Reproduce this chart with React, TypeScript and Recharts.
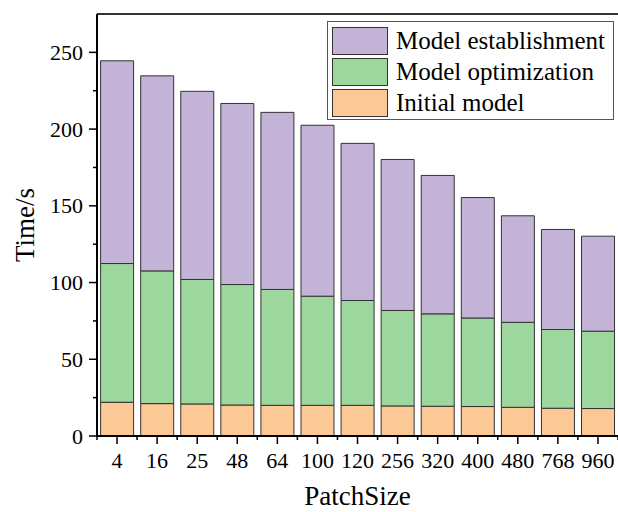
import React from 'react';
import { BarChart, Bar, XAxis, YAxis, ReferenceLine } from 'recharts';

const categories = ['4', '16', '25', '48', '64', '100', '120', '256', '320', '400', '480', '768', '960'];
const initialModel = [22.0, 21.1, 20.9, 20.2, 20.0, 20.0, 20.0, 19.6, 19.4, 19.2, 18.7, 18.1, 17.9];
const modelOptimization = [90.4, 86.5, 81.1, 78.5, 75.5, 71.1, 68.3, 62.2, 60.2, 57.7, 55.4, 51.3, 50.4];
const modelEstablishment = [132.1, 127.1, 122.6, 118.0, 115.4, 111.4, 102.4, 98.4, 90.2, 78.5, 69.4, 65.2, 61.9];
const yTicks = [0, 25, 50, 75, 100, 125, 150, 175, 200, 225, 250];

const data = categories.map((c, i) => ({
  name: c,
  initial: initialModel[i],
  optimization: modelOptimization[i],
  establishment: modelEstablishment[i],
}));

const FONT = '"Liberation Serif", "Times New Roman", serif';
const C_EST = '#C3B3D7';
const C_OPT = '#9DD79E';
const C_INI = '#FCC896';

const YTick = (props: any) => {
  const { x, y, payload } = props;
  const major = payload.value % 50 === 0;
  return (
    <g>
      <line x1={x} x2={x - (major ? 8 : 4)} y1={y} y2={y} stroke="#000" strokeWidth={1.5} />
      {major && (
        <text x={x - 14} y={y} textAnchor="end" dominantBaseline="central" fontFamily={FONT} fontSize={22} fill="#000">
          {payload.value}
        </text>
      )}
    </g>
  );
};

const XTick = (props: any) => {
  const { x, y, payload, index } = props;
  const half = payload.offset || 20;
  return (
    <g>
      <line x1={x} x2={x} y1={y} y2={y + 8} stroke="#000" strokeWidth={1.5} />
      <line x1={x - half} x2={x - half} y1={y} y2={y + 4} stroke="#000" strokeWidth={1.5} />
      {index === categories.length - 1 && (
        <line x1={x + half} x2={x + half} y1={y} y2={y + 4} stroke="#000" strokeWidth={1.5} />
      )}
      <text x={x} y={y + 32} textAnchor="middle" fontFamily={FONT} fontSize={22} fill="#000">
        {payload.value}
      </text>
    </g>
  );
};

const legendItems = [
  { label: 'Model establishment', color: C_EST },
  { label: 'Model optimization', color: C_OPT },
  { label: 'Initial model', color: C_INI },
];

export default function App() {
  return (
    <div style={{ position: 'absolute', left: 0, top: 0, width: 618, height: 512, background: '#fff' }}>
      <BarChart
        width={618}
        height={512}
        data={data}
        margin={{ top: 14, right: 0, left: 0, bottom: 0 }}
        barCategoryGap="9%"
      >
        <XAxis
          dataKey="name"
          height={76}
          tickSize={0}
          tickMargin={0}
          tickLine={false}
          axisLine={{ stroke: '#000', strokeWidth: 2 }}
          tick={<XTick />}
          interval={0}
          label={{ value: 'PatchSize', position: 'insideBottom', offset: 7, fontFamily: FONT, fontSize: 27, fill: '#000' }}
        />
        <YAxis
          width={97}
          domain={[0, 275]}
          ticks={yTicks}
          allowDataOverflow
          tickSize={0}
          tickMargin={0}
          tickLine={false}
          axisLine={{ stroke: '#000', strokeWidth: 2 }}
          tick={<YTick />}
          interval={0}
          label={{ value: 'Time/s', angle: -90, position: 'insideLeft', offset: 24, fontFamily: FONT, fontSize: 27, fill: '#000', style: { textAnchor: 'middle' } }}
        />
        <ReferenceLine y={275} stroke="#333" strokeWidth={2} ifOverflow="visible" />
        <Bar dataKey="initial" stackId="a" fill={C_INI} stroke="#333" strokeWidth={1} isAnimationActive={false} />
        <Bar dataKey="optimization" stackId="a" fill={C_OPT} stroke="#333" strokeWidth={1} isAnimationActive={false} />
        <Bar dataKey="establishment" stackId="a" fill={C_EST} stroke="#333" strokeWidth={1} isAnimationActive={false} />
      </BarChart>
      <div
        style={{
          position: 'absolute',
          left: 327,
          top: 21,
          width: 287,
          height: 99,
          border: '1px solid #555',
          background: '#fff',
          boxSizing: 'border-box',
          paddingTop: 3,
        }}
      >
        {legendItems.map((it) => (
          <div key={it.label} style={{ display: 'flex', alignItems: 'center', height: 31, marginBottom: 0 }}>
            <div
              style={{
                width: 56,
                height: 28,
                marginLeft: 4,
                background: it.color,
                border: '1px solid #333',
                boxSizing: 'border-box',
              }}
            />
            <span style={{ marginLeft: 8, fontFamily: FONT, fontSize: 25, color: '#000', whiteSpace: 'nowrap', lineHeight: '31px' }}>
              {it.label}
            </span>
          </div>
        ))}
      </div>
    </div>
  );
}
